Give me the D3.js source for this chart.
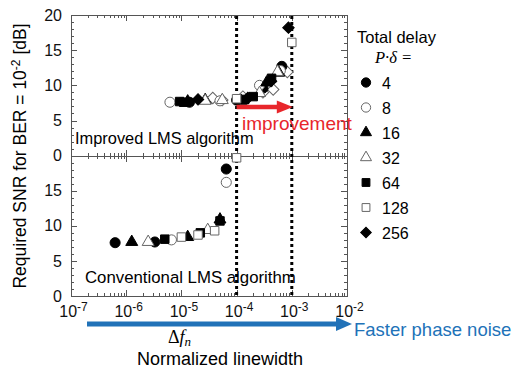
<!DOCTYPE html>
<html lang="en">
<head>
<meta charset="UTF-8">
<title>Required SNR vs normalized linewidth</title>
<style>
  body { margin: 0; background: #fff; }
  svg { display: block; font-family: "Liberation Sans", Arial, sans-serif; }
  .axis path, .axis line { stroke: #555; shape-rendering: crispEdges; }
  .lab text { font-size: 16px; fill: #111; font-family: "Liberation Sans", Arial, sans-serif; }
</style>
</head>
<body>
<svg width="522" height="370"></svg>
<script src="https://cdn.jsdelivr.net/npm/d3@7"></script>
<script>
// ---- data: [normalized linewidth, required SNR dB] ----
const delays = ['4', '8', '16', '32', '64', '128', '256'];
const xDecades = [1e-7, 1e-6, 1e-5, 1e-4, 1e-3, 1e-2];
const yTopTicks = [0, 5, 10, 15, 20];
const yBotTicks = [0, 5, 10, 15];
const limitLines = [1e-4, 1e-3];

// improved LMS (upper panel)
const imp4   = [[1.4e-5, 7.6], [1e-4, 7.9], [3e-4, 9.6], [6.6e-4, 12.7]];
const imp8   = [[6.2e-6, 7.6], [5e-5, 7.8], [2.6e-4, 10.0], [6.2e-4, 12.1]];
const imp16  = [[1.3e-5, 7.7], [2.7e-5, 7.9], [1.2e-4, 7.8], [3.5e-4, 10.4], [5.8e-4, 11.8]];
const imp32  = [[2.7e-5, 7.8], [5.5e-5, 7.9], [2.6e-4, 8.9], [5.5e-4, 11.9]];
const imp64  = [[9.3e-6, 7.7], [1.1e-5, 7.6], [1.4e-4, 8.0], [2e-4, 8.4], [4.3e-4, 11.0]];
const imp128 = [[1e-4, 8.1], [1e-3, 16.1]];
const imp256 = [[2e-5, 8.0], [1.6e-4, 8.2], [4.2e-4, 10.6], [8.7e-4, 18.2]];
const impOpenDiamond = [[3.7e-5, 8.2], [5.5e-5, 7.9], [1.3e-4, 8.4], [3e-4, 9.0], [4.6e-4, 9.4], [8.3e-4, 11.9]];

// conventional LMS (lower panel)
const conv4   = [[6.3e-7, 7.6], [3.3e-6, 7.7], [6.5e-5, 18.1]];
const conv8   = [[6.6e-6, 8.0], [6.5e-5, 16.2]];
const conv16  = [[1.26e-6, 7.7], [1.3e-5, 8.4], [5e-5, 10.9]];
const conv32  = [[2.5e-6, 7.7], [3e-5, 9.4]];
const conv64  = [[5e-6, 8.1], [2.2e-5, 9.0], [5e-5, 10.7]];
const conv128 = [[1e-5, 8.4], [2e-5, 8.7], [4e-5, 9.3], [1e-4, 19.7]];
const conv256 = [];

const improved = [imp4, imp8, imp16, imp32, imp64, imp128, imp256];
const conventional = [conv4, conv8, conv16, conv32, conv64, conv128, conv256];

// ---- layout ----
const svg = d3.select('svg');
const pLeft = 71, pRight = 347, pTop = 15, pMid = 155.7, pBottom = 296;

const x = d3.scaleLog().domain([1e-7, 1e-2]).range([pLeft, pRight]);
const yTop = d3.scaleLinear().domain([0, 20]).range([pMid, pTop]);
const yBot = d3.scaleLinear().domain([0, 20]).range([pBottom, pMid]);

const markers = [
  { shape: d3.symbolCircle, size: 80, fill: '#000', stroke: '#000', rot: 0 },
  { shape: d3.symbolCircle, size: 80, fill: '#fff', stroke: '#666', rot: 0 },
  { shape: d3.symbolTriangle, size: 62, fill: '#000', stroke: '#000', rot: 0 },
  { shape: d3.symbolTriangle, size: 62, fill: '#fff', stroke: '#666', rot: 0 },
  { shape: d3.symbolSquare, size: 72, fill: '#000', stroke: '#000', rot: 0 },
  { shape: d3.symbolSquare, size: 72, fill: '#fff', stroke: '#666', rot: 0 },
  { shape: d3.symbolSquare, size: 66, fill: '#000', stroke: '#000', rot: 45 }
];
const openDiamond = { shape: d3.symbolSquare, size: 66, fill: '#fff', stroke: '#666', rot: 45 };

// axes: x ticks (log minor + major)
const allX = x.ticks();
const isMajor = d => Math.abs(Math.log10(d) - Math.round(Math.log10(d))) < 1e-6;
const minorX = allX.filter(d => !isMajor(d));

function xTicksAt(y, axisFn, len) {
  svg.append('g').attr('class', 'axis').attr('transform', `translate(0,${y})`)
    .call(axisFn(x).tickValues(minorX).tickSize(len).tickSizeOuter(0).tickFormat(''));
  svg.append('g').attr('class', 'axis').attr('transform', `translate(0,${y})`)
    .call(axisFn(x).tickValues(xDecades).tickSize(len * 2).tickSizeOuter(0).tickFormat(''));
}
xTicksAt(pTop, d3.axisBottom, 3);
xTicksAt(pBottom, d3.axisTop, 3);
xTicksAt(pMid, d3.axisTop, 3);
xTicksAt(pMid, d3.axisBottom, 3);

// y ticks on both sides of both panels
[yTop, yBot].forEach(ys => {
  const ones = d3.range(0, 21, 1);
  [[d3.axisRight, pLeft], [d3.axisLeft, pRight]].forEach(([fn, xp]) => {
    svg.append('g').attr('class', 'axis').attr('transform', `translate(${xp},0)`)
      .call(fn(ys).tickValues(ones).tickSize(3).tickSizeOuter(0).tickFormat(''));
    svg.append('g').attr('class', 'axis').attr('transform', `translate(${xp},0)`)
      .call(fn(ys).tickValues([0, 5, 10, 15, 20]).tickSize(6).tickSizeOuter(0).tickFormat(''));
  });
});

// y tick labels
svg.append('g').attr('class', 'lab').attr('transform', `translate(${pLeft},0)`)
  .call(d3.axisLeft(yTop).tickValues(yTopTicks).tickSize(0).tickPadding(9))
  .call(g => g.select('.domain').remove());
svg.append('g').attr('class', 'lab').attr('transform', `translate(${pLeft},0)`)
  .call(d3.axisLeft(yBot).tickValues(yBotTicks).tickSize(0).tickPadding(9))
  .call(g => g.select('.domain').remove());

// x tick labels 10^n
const xl = svg.append('g').attr('class', 'lab').attr('transform', `translate(0,${pBottom})`)
  .call(d3.axisBottom(x).tickValues(xDecades).tickSize(0).tickFormat(''))
  .call(g => g.select('.domain').remove());
xl.selectAll('.tick text')
  .attr('y', 21).attr('dy', 0).attr('dx', 2)
  .each(function (d) {
    const t = d3.select(this);
    t.append('tspan').text('10');
    t.append('tspan').attr('dy', -6).attr('font-size', 12).text(Math.round(Math.log10(d)));
  });

// dotted limit lines
svg.selectAll('.limit').data(limitLines).enter().append('line')
  .attr('x1', d => x(d)).attr('x2', d => x(d))
  .attr('y1', pTop + 1).attr('y2', pBottom)
  .attr('stroke', '#000').attr('stroke-width', 3).attr('stroke-dasharray', '3,3');

// panel labels
svg.append('text').attr('x', 75).attr('y', 144).attr('font-size', 16.4).text('Improved LMS algorithm');
svg.append('text').attr('x', 85).attr('y', 283).attr('font-size', 16.8).text('Conventional LMS algorithm');

// markers
function drawSeries(data, ys, m) {
  svg.append('g').selectAll('path').data(data).enter().append('path')
    .attr('d', d3.symbol().type(m.shape).size(m.size))
    .attr('transform', d => `translate(${x(d[0])},${ys(d[1])}) rotate(${m.rot})`)
    .attr('fill', m.fill).attr('stroke', m.stroke).attr('stroke-width', 1);
}
drawSeries(impOpenDiamond, yTop, openDiamond);
improved.forEach((s, i) => drawSeries(s, yTop, markers[i]));
conventional.forEach((s, i) => drawSeries(s, yBot, markers[i]));

// improvement arrow
const red = '#e8262b';
svg.append('line').attr('x1', x(1e-4)).attr('x2', x(1e-3) - 12)
  .attr('y1', 107).attr('y2', 107).attr('stroke', red).attr('stroke-width', 4.5);
svg.append('path').attr('fill', red)
  .attr('d', `M${x(1e-3) - 15},100.5 L${x(1e-3) + 1},107 L${x(1e-3) - 15},113.5 Z`);
svg.append('text').attr('x', 242).attr('y', 130).attr('font-size', 19).attr('fill', red).text('improvement');

// blue arrow under the axis
const blue = '#2172b8';
svg.append('line').attr('x1', 87).attr('x2', 338).attr('y1', 324).attr('y2', 324)
  .attr('stroke', blue).attr('stroke-width', 5);
svg.append('path').attr('fill', blue).attr('d', 'M336,317 L352,324 L336,331 Z');
svg.append('text').attr('x', 354).attr('y', 336).attr('font-size', 18.5).attr('fill', blue).text('Faster phase noise');

// x axis label
const df = svg.append('text').attr('x', 168).attr('y', 343)
  .attr('font-family', '"Liberation Serif", serif').attr('font-size', 18);
df.append('tspan').text('Δ');
df.append('tspan').attr('font-style', 'italic').text('f');
df.append('tspan').attr('font-style', 'italic').attr('font-size', 13).attr('dy', 3).text('n');
svg.append('text').attr('x', 220).attr('y', 365).attr('text-anchor', 'middle')
  .attr('font-size', 18).text('Normalized linewidth');

// y axis label
const yl = svg.append('text').attr('transform', 'translate(26,156) rotate(-90)')
  .attr('text-anchor', 'middle').attr('font-size', 17.5);
yl.append('tspan').text('Required SNR for BER = 10');
yl.append('tspan').attr('dy', -6).attr('font-size', 12).text('-2');
yl.append('tspan').attr('dy', 6).text(' [dB]');

// legend
svg.append('text').attr('x', 357).attr('y', 43).attr('font-size', 16.5).text('Total delay');
svg.append('text').attr('x', 375).attr('y', 63).attr('font-family', '"Liberation Serif", serif')
  .attr('font-size', 16.5).attr('font-style', 'italic').text('P·δ =');
const leg = svg.append('g').selectAll('g').data(delays).enter().append('g')
  .attr('transform', (d, i) => `translate(366,${82.5 + i * 25})`);
leg.append('path')
  .attr('d', (d, i) => d3.symbol().type(markers[i].shape).size(markers[i].size * 0.85)())
  .attr('transform', (d, i) => `rotate(${markers[i].rot})`)
  .attr('fill', (d, i) => markers[i].fill).attr('stroke', (d, i) => markers[i].stroke);
leg.append('text').attr('x', 16).attr('y', 6).attr('font-size', 16).text(d => d);
</script>
</body>
</html>
